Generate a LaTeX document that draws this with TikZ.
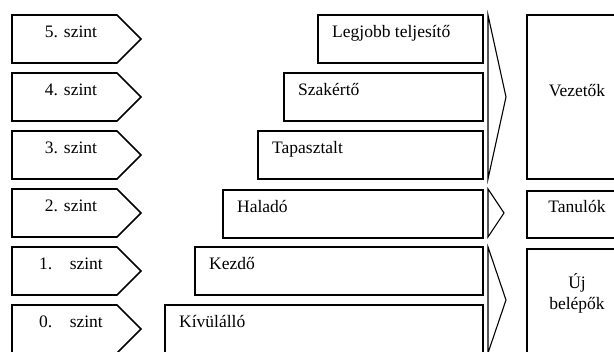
\documentclass[tikz,border=0pt]{standalone}
\usepackage{fontspec}
\setmainfont{Liberation Serif}
\usetikzlibrary{positioning}

\begin{document}
\begin{tikzpicture}[x=1pt,y=-1pt,
  box/.style={draw,line width=1.6pt,line join=miter},
  brace/.style={draw,line width=1.1pt,line join=miter},
  lbl/.style={font=\fontsize{17.5}{21}\selectfont,inner sep=0pt}]
\useasboundingbox (0,0) rectangle (614,352);
\clip (0,0) rectangle (614,352);
\foreach \n/\t/\y in {5/{5. szint}/15,4/{4. szint}/73,3/{3. szint}/131,
    2/{2. szint}/189,1/{1.\ \ \ \ szint}/247,0/{0.\ \ \ \ szint}/305}{
  \draw[box] (12,\y) -- (117,\y) -- (141,\y+24) -- (117,\y+48) -- (12,\y+48) -- cycle;
  \node[lbl,anchor=base] (lvl\n) at (71,\y+23) {\t};
}
\foreach \m/\t/\x/\y in {best/{Legjobb teljesítő}/318/15,expert/{Szakértő}/284/73,
    skilled/{Tapasztalt}/258/131,adv/{Haladó}/223/190,novice/{Kezdő}/195/247,
    outsider/{Kívülálló}/165/305}{
  \draw[box] (\x,\y) rectangle (483,\y+48);
  \node[lbl,anchor=base west] (\m) at (\x+14,\y+23) {\t};
}
\draw[brace] (488,15) -- (506,97) -- (488,179) -- cycle;
\draw[brace] (488,189) -- (504,213) -- (488,237) -- cycle;
\draw[brace] (488,247) -- (506,300) -- (488,353) -- cycle;
\draw[box] (527,15) rectangle (630,179);
\node[lbl,anchor=base] (lead) at (577,97) {Vezetők};
\draw[box] (527,191) rectangle (630,238);
\node[lbl,anchor=base] (learn) at (577,213) {Tanulók};
\draw[box] (527,249) rectangle (630,360);
\node[lbl,align=center] (newbie) at (577,293) {Új\\belépők};
\end{tikzpicture}
\end{document}
